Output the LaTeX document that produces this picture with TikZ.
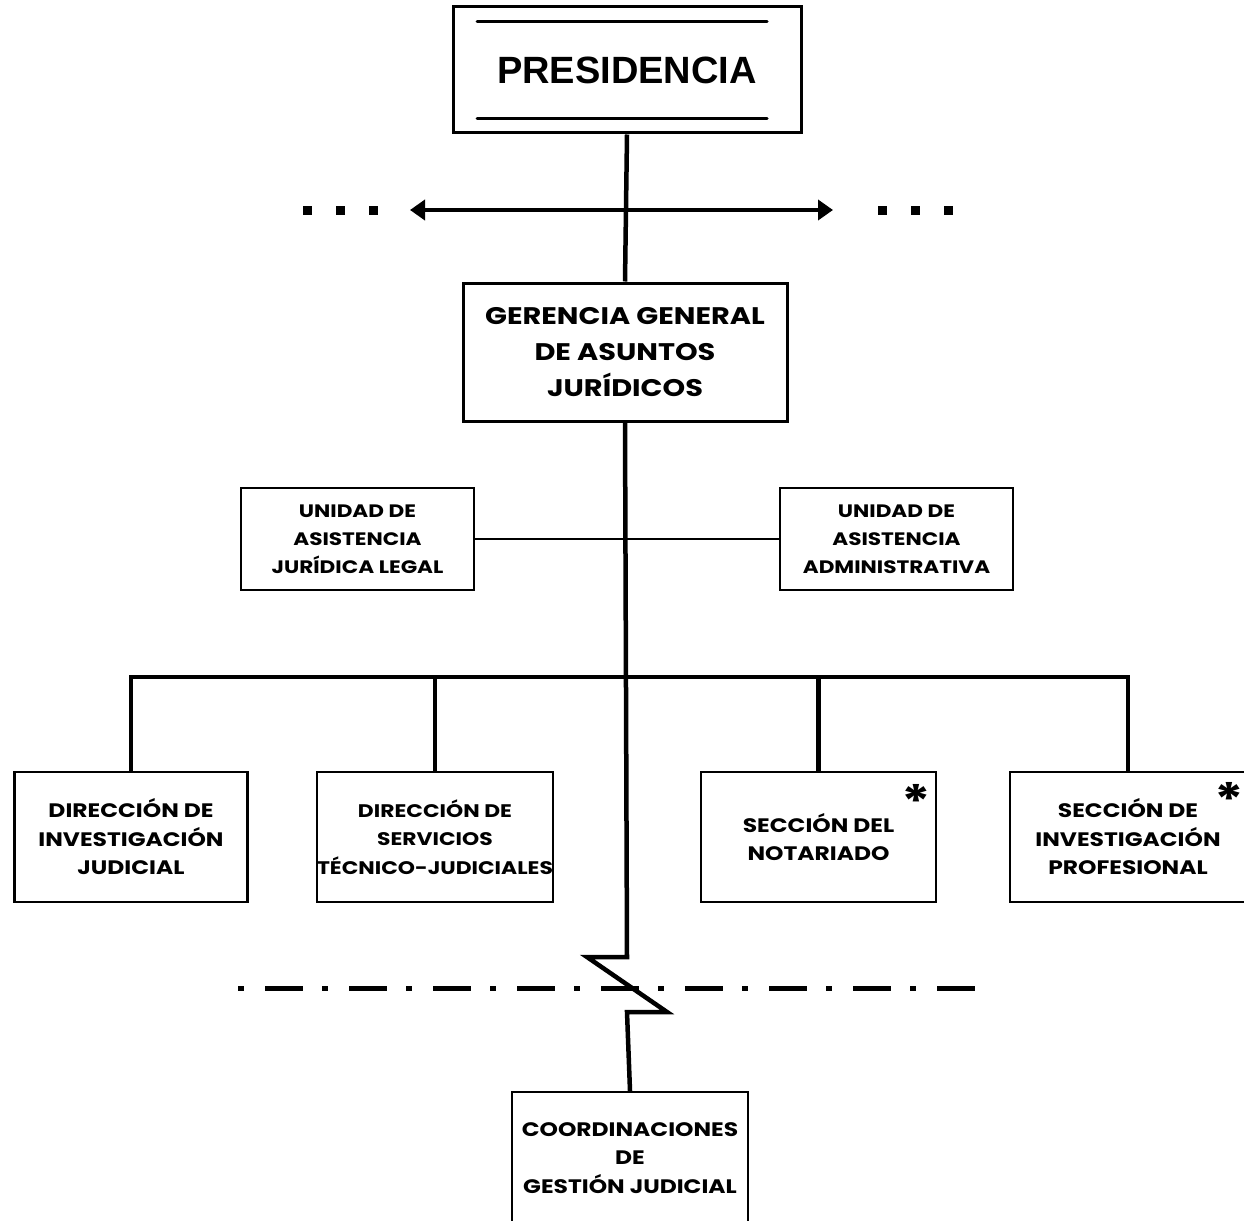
\documentclass[tikz,border=0pt]{standalone}
\usepackage{fontspec}
\setmainfont{Poppins}[FakeStretch=1.2]
\newfontfamily\arialfont{Liberation Sans}
\usetikzlibrary{arrows.meta}

\tikzset{
  unit/.style={draw, line width=2.2pt, align=center, inner sep=0pt,
    font=\bfseries\fontsize{19.5}{28.5}\selectfont},
  staffunit/.style={unit, minimum width=233pt, minimum height=102pt,
    font=\bfseries\fontsize{18}{28}\selectfont},
  lineunit/.style={unit, minimum height=130pt},
  bigunit/.style={unit, line width=3pt, font=\bfseries\fontsize{24}{36}\selectfont},
  conn/.style={line width=4.5pt},
  thinconn/.style={line width=1.5pt},
  dotmark/.style={fill, minimum size=9pt, inner sep=0pt},
  starmark/.style={font=\bfseries\fontsize{46}{46}\selectfont, inner sep=0pt, anchor=north}
}

\begin{document}
\begin{tikzpicture}[x=1pt, y=-1pt]
  \useasboundingbox (0,0) rectangle (1244,1220);
  \clip (0,0) rectangle (1244,1220);

  % top box with the two inner rules
  \node[draw, line width=3pt, minimum width=348pt, minimum height=126pt,
        inner sep=0pt, font=\arialfont\bfseries\fontsize{38}{38}\selectfont]
        (pres) at (627,70) {PRESIDENCIA};
  \draw[line width=3pt, line cap=round] (477,22) -- (767,22);
  \draw[line width=3pt, line cap=round] (477,119) -- (767,119);

  % management box
  \node[bigunit, minimum width=324pt, minimum height=138pt] (ger) at (625,352)
    {GERENCIA GENERAL\\DE ASUNTOS\\JURÍDICOS};

  % staff units
  \node[staffunit] (ual) at (357.5,539)
    {UNIDAD DE\\ASISTENCIA\\JURÍDICA LEGAL};
  \node[staffunit] (uaa) at (896.5,539)
    {UNIDAD DE\\ASISTENCIA\\ADMINISTRATIVA};

  % line units
  \node[lineunit, minimum width=233pt] (d1) at (131,837)
    {DIRECCIÓN DE\\INVESTIGACIÓN\\JUDICIAL};
  \node[lineunit, minimum width=236pt, font=\bfseries\fontsize{18.2}{28.5}\selectfont] (d2) at (435,837)
    {DIRECCIÓN DE\\SERVICIOS\\TÉCNICO-JUDICIALES};
  \node[lineunit, minimum width=235pt] (s1) at (818.5,837)
    {SECCIÓN DEL\\NOTARIADO};
  \node[lineunit, minimum width=236pt] (s2) at (1128,837)
    {SECCIÓN DE\\INVESTIGACIÓN\\PROFESIONAL};
  \node[starmark] (st1) at (916,784) {*};
  \node[starmark] (st2) at (1229,782) {*};

  % regional coordination box (runs past the lower edge)
  \node[unit, minimum width=236pt, minimum height=132pt] (coord) at (630,1158)
    {COORDINACIONES\\DE\\GESTIÓN JUDICIAL};

  % lateral links with ellipsis marks
  \coordinate (la) at (410,210);
  \coordinate (ra) at (833,210);
  \draw[line width=4pt, {Triangle[length=15pt,width=20pt]}-{Triangle[length=15pt,width=20pt]}] (la) -- (ra);
  \foreach \i/\x in {1/307,2/340,3/373} \node[dotmark] (ld\i) at (\x,210) {};
  \foreach \i/\x in {1/882,2/915,3/948} \node[dotmark] (rd\i) at (\x,210) {};

  % main trunk with the break symbol
  \draw[conn] (pres.south) -- (ger.north);
  \coordinate (bus) at (627,677);
  \coordinate (zz) at (627,957);
  \draw[conn] (ger.south) -- (zz) -- (587,957) -- (667,1012) -- (627,1012) -- (coord.north);

  % staff link
  \draw[thinconn] (ual.east) -- (uaa.west);

  % distribution bar
  \draw[conn] (d1.north) |- (bus) -| (s2.north);
  \draw[conn] (d2.north) -- (d2.north |- bus);
  \draw[conn] (s1.north) -- (s1.north |- bus);

  % boundary line
  \coordinate (bl) at (238,988);
  \coordinate (br) at (975,988);
  \draw[line width=5pt, dash pattern=on 6pt off 21pt on 38pt off 19pt] (bl) -- (br);
\end{tikzpicture}
\end{document}
